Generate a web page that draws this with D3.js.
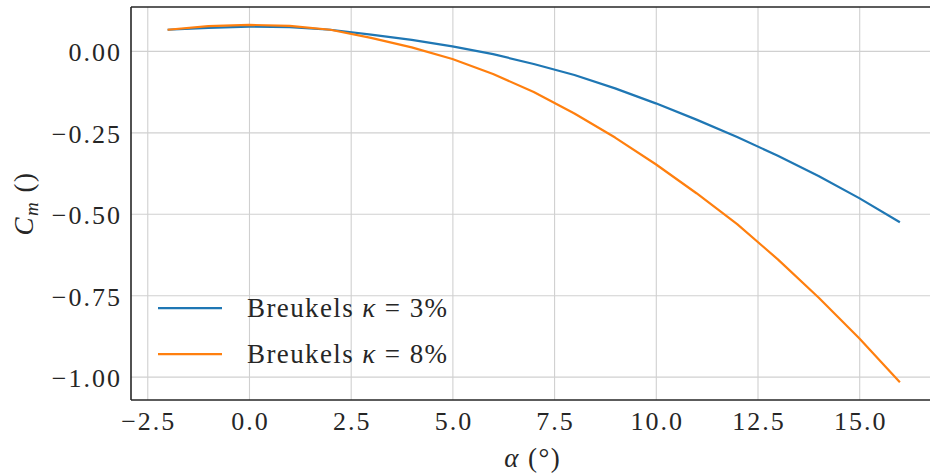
<!DOCTYPE html>
<html>
<head>
<meta charset="utf-8">
<script src="https://cdn.jsdelivr.net/npm/d3@7/dist/d3.min.js"></script>
<style>
  html, body { margin: 0; padding: 0; background: #ffffff; }
  svg { display: block; }
  text { font-family: "Liberation Serif", "Times New Roman", serif; fill: #262626; }
</style>
</head>
<body>
<svg id="chart" width="930" height="475"></svg>
<script>
// Angle of attack (degrees)
const alpha = [-2, -1, 0, 1, 2, 3, 4, 5, 6, 7, 8, 9, 10, 11, 12, 13, 14, 15, 16];
// Pitching moment coefficient, Breukels model, 3% camber
const cm3 = [0.065, 0.071, 0.0745, 0.073, 0.065, 0.050, 0.034, 0.014, -0.010, -0.040,
             -0.074, -0.115, -0.161, -0.211, -0.264, -0.322, -0.384, -0.452, -0.526];
// Pitching moment coefficient, Breukels model, 8% camber
const cm8 = [0.065, 0.076, 0.080, 0.077, 0.065, 0.040, 0.011, -0.025, -0.071, -0.126,
             -0.192, -0.266, -0.348, -0.437, -0.532, -0.640, -0.757, -0.882, -1.017];

const xTicks = [-2.5, 0.0, 2.5, 5.0, 7.5, 10.0, 12.5, 15.0];
const yTicks = [0.00, -0.25, -0.50, -0.75, -1.00];

const series = [
  { kappa: "3%", values: cm3, color: "#1f77b4" },
  { kappa: "8%", values: cm8, color: "#ff7f0e" }
];

const svg = d3.select("#chart");
const pLeft = 131, pRight = 936.5, pTop = 7, pBottom = 400;

// 5% padding on both axes around the data extent
const xExt = d3.extent(alpha);
const xPad = (xExt[1] - xExt[0]) * 0.05;
const x = d3.scaleLinear().domain([xExt[0] - xPad, xExt[1] + xPad]).range([pLeft, pRight]);

const allY = cm3.concat(cm8);
const yExt = d3.extent(allY);
const yPad = (yExt[1] - yExt[0]) * 0.05;
const y = d3.scaleLinear().domain([yExt[0] - yPad, yExt[1] + yPad]).range([pBottom, pTop]);

const fmtX = v => d3.format(".1f")(v).replace("-", "\u2212");
const fmtY = v => d3.format(".2f")(v).replace("-", "\u2212");

// Grid lines
const gridX = d3.axisBottom(x).tickValues(xTicks).tickSize(-(pBottom - pTop)).tickFormat("");
const gridY = d3.axisLeft(y).tickValues(yTicks).tickSize(-(pRight - pLeft)).tickFormat("");
svg.append("g").attr("transform", `translate(0,${pBottom})`).call(gridX)
  .call(g => g.select(".domain").remove())
  .selectAll("line").attr("stroke", "#d0d0d0").attr("stroke-width", 1.1);
svg.append("g").attr("transform", `translate(${pLeft},0)`).call(gridY)
  .call(g => g.select(".domain").remove())
  .selectAll("line").attr("stroke", "#d0d0d0").attr("stroke-width", 1.1);

// Tick labels
const xAxis = d3.axisBottom(x).tickValues(xTicks).tickSize(0).tickPadding(0).tickFormat(fmtX);
svg.append("g").attr("transform", `translate(0,${pBottom})`).call(xAxis)
  .call(g => g.select(".domain").remove())
  .selectAll("text")
  .attr("y", 30).attr("dy", null).attr("x", 1)
  .style("font-family", '"Liberation Serif", serif')
  .style("letter-spacing", "2px")
  .style("font-size", "26px").attr("fill", "#262626");

const yAxis = d3.axisLeft(y).tickValues(yTicks).tickSize(0).tickPadding(0).tickFormat(fmtY);
svg.append("g").attr("transform", `translate(${pLeft},0)`).call(yAxis)
  .call(g => g.select(".domain").remove())
  .selectAll("text")
  .attr("x", -9).attr("dy", null).attr("y", 10)
  .style("font-family", '"Liberation Serif", serif')
  .style("letter-spacing", "2px")
  .style("font-size", "26px").attr("fill", "#262626");

// Data lines
const line = d3.line().x((d, i) => x(alpha[i])).y(d => y(d));
svg.append("g").selectAll("path").data(series).join("path")
  .attr("d", s => line(s.values))
  .attr("fill", "none")
  .attr("stroke", s => s.color)
  .attr("stroke-width", 2.2)
  .attr("stroke-linejoin", "round");

// Spines: left, bottom, top
const spine = svg.append("g").attr("stroke", "#262626").attr("stroke-width", 1.6).attr("fill", "none");
spine.append("line").attr("x1", pLeft).attr("x2", pLeft).attr("y1", pTop).attr("y2", pBottom);
spine.append("line").attr("x1", pLeft).attr("x2", pRight).attr("y1", pBottom).attr("y2", pBottom);
spine.append("line").attr("x1", pLeft).attr("x2", pRight).attr("y1", pTop).attr("y2", pTop);

// Axis titles
const xl = svg.append("text")
  .attr("x", (pLeft + pRight) / 2 - 1).attr("y", 467)
  .attr("text-anchor", "middle").style("font-size", "27px").style("letter-spacing", "1.5px");
xl.append("tspan").style("font-style", "italic").text("\u03b1");
xl.append("tspan").text(" (\u00b0)");

const yl = svg.append("text")
  .attr("transform", `translate(33,${(pTop + pBottom) / 2}) rotate(-90)`)
  .attr("text-anchor", "middle").style("font-size", "27px").style("letter-spacing", "1.5px");
yl.append("tspan").style("font-style", "italic").text("C");
yl.append("tspan").style("font-style", "italic").style("font-size", "19px").attr("dy", 5).text("m");
yl.append("tspan").attr("dy", -5).text(" ()");

// Legend
const legend = svg.append("g");
series.forEach((s, i) => {
  const ly = y(-0.79) + i * 46;
  legend.append("line")
    .attr("x1", 158).attr("x2", 222).attr("y1", ly).attr("y2", ly)
    .attr("stroke", s.color).attr("stroke-width", 2.2);
  const t = legend.append("text").attr("x", 247).attr("y", ly + 9)
    .style("font-size", "27px").style("letter-spacing", "1.4px");
  t.append("tspan").text("Breukels ");
  t.append("tspan").style("font-style", "italic").text("\u03ba");
  t.append("tspan").text(" = " + s.kappa);
});
</script>
</body>
</html>
